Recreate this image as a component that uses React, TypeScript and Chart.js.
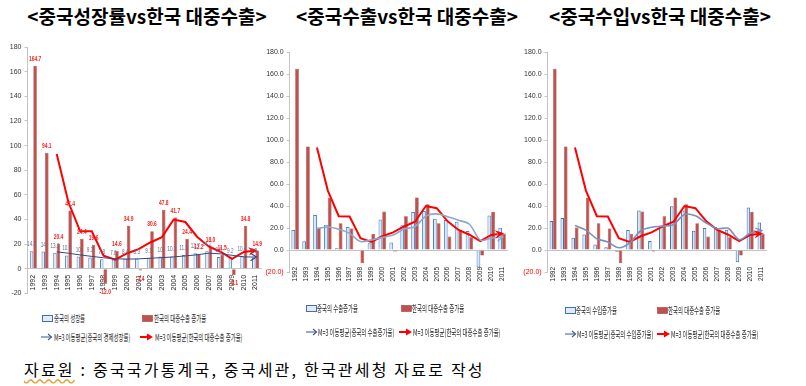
import React, { useEffect, useRef } from "react";
import { Chart, registerables } from "chart.js";

Chart.register(...registerables);

// ---------------- data ----------------
const years = ["1992","1993","1994","1995","1996","1997","1998","1999","2000","2001","2002","2003","2004","2005","2006","2007","2008","2009","2010","2011"];
const chinaGdpGrowth = [14.2,14.0,13.1,10.9,10.0,9.3,7.8,7.6,8.4,8.3,9.1,10.0,10.1,11.3,12.7,14.2,9.6,9.2,10.4,9.2];
const koreaExportToChinaGrowth = [164.7,94.1,20.4,47.4,24.4,19.6,-12.0,14.6,34.9,-1.4,30.6,47.8,41.7,24.4,12.2,18.0,11.5,-5.1,34.8,14.9];
const chinaExportGrowth = [18.1,8.0,31.9,22.9,1.5,21.0,0.5,6.1,27.8,6.8,22.4,34.6,35.4,28.4,27.2,25.7,17.2,-16.0,31.3,20.3];
const chinaImportGrowth = [26.3,29.0,11.2,14.2,5.1,2.5,-1.5,18.2,35.8,8.2,21.2,39.8,36.0,17.6,19.9,20.8,18.5,-11.2,38.7,24.9];
const maChinaGdp = [null,null,13.8,12.7,11.3,10.1,9.0,8.2,7.9,8.1,8.6,9.1,9.7,10.5,11.4,12.7,12.2,11.0,9.7,9.6];
const maKoreaExport = [null,null,93.1,54.0,30.7,30.5,10.7,7.4,12.5,16.0,21.4,25.7,40.0,38.0,26.1,18.2,13.9,8.1,13.7,14.9];
const maChinaExport = [null,null,19.3,20.9,18.8,15.1,7.7,9.2,11.5,13.6,19.0,21.3,30.8,32.8,30.3,27.1,23.4,9.0,10.8,11.9];
const maChinaImport = [null,null,22.2,18.1,10.2,7.3,2.0,6.4,17.5,20.7,21.7,23.1,32.3,31.1,24.5,19.4,19.7,9.4,15.3,17.5];
const yMin = -20;
const yMax = 180;
const yStep = 20;

// ---------------- plugins ----------------
const arrowPlugin = {
  id: "arrowEnd",
  afterDatasetsDraw(chart: any) {
    const ctx = chart.ctx;
    chart.data.datasets.forEach((ds: any, i: number) => {
      if (!ds.arrow) return;
      const pts = chart.getDatasetMeta(i).data;
      const a = pts[pts.length - 2];
      const b = pts[pts.length - 1];
      const ang = Math.atan2(b.y - a.y, b.x - a.x);
      const s = ds.arrow.size;
      ctx.save();
      ctx.translate(b.x, b.y);
      ctx.rotate(ang);
      ctx.strokeStyle = ds.borderColor;
      ctx.fillStyle = ds.borderColor;
      ctx.lineWidth = ds.arrow.lw;
      ctx.beginPath();
      if (ds.arrow.filled) {
        ctx.moveTo(2, 0);
        ctx.lineTo(-s, -s * 0.6);
        ctx.lineTo(-s * 0.55, 0);
        ctx.lineTo(-s, s * 0.6);
        ctx.closePath();
        ctx.fill();
      } else {
        ctx.moveTo(-s, -s * 0.75);
        ctx.lineTo(1, 0);
        ctx.lineTo(-s, s * 0.75);
        ctx.stroke();
      }
      ctx.restore();
    });
  },
};

const valueLabelPlugin = {
  id: "valueLabels",
  afterDatasetsDraw(chart: any) {
    const ctx = chart.ctx;
    chart.data.datasets.forEach((ds: any, i: number) => {
      if (!ds.valueLabels) return;
      const meta = chart.getDatasetMeta(i);
      meta.data.forEach((el: any, j: number) => {
        const v = ds.data[j];
        const txt = ds.valueLabels.format(v);
        const y = v >= 0 ? el.y - ds.valueLabels.offset : el.y + ds.valueLabels.offset + 1;
        ctx.save();
        ctx.translate(el.x, y);
        ctx.scale(0.62, 1);
        ctx.font = ds.valueLabels.font;
        ctx.fillStyle = ds.valueLabels.color;
        ctx.textAlign = "center";
        ctx.textBaseline = "middle";
        ctx.fillText(txt, 0, 0);
        ctx.restore();
      });
    });
  },
};

Chart.defaults.font.family = '"Liberation Sans", Arial, sans-serif';

type Spec = {
  china: number[];
  chinaMa: (number | null)[];
  chinaFill: string;
  chinaBorder: string;
  maColor: string;
  maWidth: number;
  maTension: number;
  catPct: number;
  yAxisWidth: number;
  padding: { top: number; bottom: number; left: number; right: number };
  decimalTicks: boolean;
  xPad: number;
  xFont: number;
  withLabels: boolean;
};

function buildConfig(s: Spec): any {
  const redLabels = s.withLabels
    ? { format: (v: number) => v.toFixed(1), offset: 7, font: "bold 8px 'Liberation Sans'", color: "#ff1a1a" }
    : undefined;
  const blueLabels = s.withLabels
    ? { format: (v: number) => String(v), offset: 7, font: "7.5px 'Liberation Sans'", color: "#5c6f94" }
    : undefined;
  return {
    type: "bar",
    data: {
      labels: years,
      datasets: [
        {
          type: "line",
          data: s.chinaMa,
          borderColor: s.maColor,
          borderWidth: s.maWidth,
          tension: s.maTension,
          pointRadius: 0,
          fill: false,
          order: 0,
          arrow: { size: 5, lw: 1.2, filled: false },
        },
        {
          type: "line",
          data: maKoreaExport,
          borderColor: "#ff0000",
          borderWidth: 2,
          tension: 0,
          pointRadius: 0,
          fill: false,
          order: 0,
          arrow: { size: 7, lw: 1, filled: true },
        },
        {
          type: "bar",
          data: s.china,
          backgroundColor: s.chinaFill,
          borderColor: s.chinaBorder,
          borderWidth: 1,
          barPercentage: 1,
          categoryPercentage: s.catPct,
          order: 1,
          valueLabels: blueLabels,
        },
        {
          type: "bar",
          data: koreaExportToChinaGrowth,
          backgroundColor: "#c0504d",
          borderColor: "#a23f3c",
          borderWidth: 0.6,
          barPercentage: 1,
          categoryPercentage: s.catPct,
          order: 1,
          valueLabels: redLabels,
        },
      ],
    },
    options: {
      responsive: false,
      animation: false,
      devicePixelRatio: 1,
      layout: { padding: s.padding },
      plugins: { legend: { display: false }, tooltip: { enabled: false }, title: { display: false } },
      scales: {
        x: {
          type: "category",
          position: { y: 0 },
          offset: true,
          grid: { display: false, drawTicks: false },
          border: { display: true, color: "#c4c4c4", width: 1 },
          ticks: {
            minRotation: 90,
            maxRotation: 90,
            autoSkip: false,
            padding: s.xPad,
            font: { size: s.xFont },
            color: "#222",
          },
        },
        y: {
          min: yMin,
          max: yMax,
          ticks: {
            stepSize: yStep,
            padding: 3,
            font: { size: 7 },
            color: (c: any) => (s.decimalTicks && c.tick.value < 0 ? "#ff0000" : "#333"),
            callback: (v: any) => {
              const n = Number(v);
              if (!s.decimalTicks) return String(n);
              return n < 0 ? "(" + Math.abs(n).toFixed(1) + ")" : n.toFixed(1);
            },
          },
          grid: { drawOnChartArea: false, drawTicks: true, tickLength: 3, color: "#c4c4c4" },
          border: { color: "#c4c4c4" },
          afterFit: (sc: any) => {
            sc.width = s.yAxisWidth;
          },
        },
      },
    },
    plugins: [arrowPlugin, valueLabelPlugin],
  };
}

function ChartCanvas(props: { left: number; top: number; width: number; height: number; spec: Spec }) {
  const ref = useRef<HTMLCanvasElement | null>(null);
  useEffect(() => {
    const chart = new Chart(ref.current as HTMLCanvasElement, buildConfig(props.spec));
    return () => chart.destroy();
  }, []);
  return (
    <canvas
      ref={ref}
      width={props.width}
      height={props.height}
      style={{ position: "absolute", left: props.left, top: props.top, width: props.width, height: props.height }}
    />
  );
}

const spec1: Spec = {
  china: chinaGdpGrowth,
  chinaMa: maChinaGdp,
  chinaFill: "#e6edf7",
  chinaBorder: "#4f81bd",
  maColor: "#2f4b80",
  maWidth: 1,
  maTension: 0,
  catPct: 0.6,
  yAxisWidth: 27.5,
  padding: { top: 47, bottom: 11.5, left: 0, right: 4.5 },
  decimalTicks: false,
  xPad: 6,
  xFont: 7,
  withLabels: true,
};
const spec2: Spec = {
  china: chinaExportGrowth,
  chinaMa: maChinaExport,
  chinaFill: "#dbe7f5",
  chinaBorder: "#3d85d0",
  maColor: "#8ea7cb",
  maWidth: 1.6,
  maTension: 0.3,
  catPct: 0.69,
  yAxisWidth: 27.7,
  padding: { top: 52, bottom: 18, left: 0, right: 4.1 },
  decimalTicks: true,
  xPad: 17,
  xFont: 6.5,
  withLabels: false,
};
const spec3: Spec = {
  china: chinaImportGrowth,
  chinaMa: maChinaImport,
  chinaFill: "#dbe7f5",
  chinaBorder: "#3d6fb0",
  maColor: "#7890bd",
  maWidth: 1.6,
  maTension: 0.3,
  catPct: 0.64,
  yAxisWidth: 27.6,
  padding: { top: 52, bottom: 18, left: 0, right: 4.4 },
  decimalTicks: true,
  xPad: 17,
  xFont: 6.5,
  withLabels: false,
};

// ---------------- legend (HTML) ----------------
function Symbol({ kind }: { kind: string }) {
  if (kind === "boxBlue")
    return (
      <svg width="11" height="8">
        <rect x="0.5" y="1.5" width="10" height="6" fill="#e3ebf6" stroke="#3f6fb5" strokeWidth="1" />
      </svg>
    );
  if (kind === "boxRed")
    return (
      <svg width="11" height="8">
        <rect x="0.5" y="1.5" width="10" height="6" fill="#c0504d" stroke="#a23f3c" strokeWidth="0.6" />
      </svg>
    );
  if (kind === "arrowBlue")
    return (
      <svg width="12" height="8">
        <line x1="0" y1="4" x2="10.5" y2="4" stroke="#3b5690" strokeWidth="1" />
        <polyline points="7,1 10.5,4 7,7" fill="none" stroke="#3b5690" strokeWidth="1.1" />
      </svg>
    );
  return (
    <svg width="14" height="8">
      <line x1="0" y1="4" x2="10" y2="4" stroke="#ff0000" strokeWidth="2" />
      <polygon points="7,0.5 13,4 7,7.5" fill="#ff0000" />
    </svg>
  );
}

function LegendItem(props: { sx: number; tx: number; y: number; kind: string; text: string }) {
  return (
    <>
      <div style={{ position: "absolute", left: props.sx, top: props.y - 4, height: 8, lineHeight: 0 }}>
        <Symbol kind={props.kind} />
      </div>
      <div
        style={{
          position: "absolute",
          left: props.tx,
          top: props.y - 7,
          height: 14,
          lineHeight: "14px",
          fontSize: 9.5,
          fontFamily: '"Noto Sans CJK KR", sans-serif',
          color: "#1e1e1e",
          whiteSpace: "nowrap",
          transform: "scaleX(0.57)",
          transformOrigin: "left center",
        }}
      >
        {props.text}
      </div>
    </>
  );
}

const titleStyle: React.CSSProperties = {
  position: "absolute",
  top: 4,
  width: 300,
  textAlign: "center",
  fontSize: 19,
  fontWeight: 700,
  lineHeight: "24px",
  fontFamily: '"Noto Sans CJK KR", sans-serif',
  color: "#000",
  whiteSpace: "nowrap",
};

export default function App() {
  return (
    <div
      style={{
        position: "absolute",
        left: 0,
        top: 0,
        width: 806,
        height: 386,
        background: "#fff",
        overflow: "hidden",
      }}
    >
      <div style={{ ...titleStyle, left: 147 - 150 }}>&lt;중국성장률vs한국 대중수출&gt;</div>
      <div style={{ ...titleStyle, left: 407 - 150 }}>&lt;중국수출vs한국 대중수출&gt;</div>
      <div style={{ ...titleStyle, left: 660 - 150 }}>&lt;중국수입vs한국 대중수출&gt;</div>

      <ChartCanvas left={0} top={0} width={270} height={305} spec={spec1} />
      <ChartCanvas left={262} top={0} width={265} height={290} spec={spec2} />
      <ChartCanvas left={520} top={0} width={266} height={290} spec={spec3} />

      <LegendItem sx={42} tx={54} y={318} kind="boxBlue" text="중국의 성장률" />
      <LegendItem sx={142} tx={154} y={318} kind="boxRed" text="한국의 대중수출 증가율" />
      <LegendItem sx={41} tx={54} y={337} kind="arrowBlue" text="M=3 이동평균(중국의 경제성장률)" />
      <LegendItem sx={140} tx={155} y={337} kind="arrowRed" text="M=3 이동평균(한국의 대중수출 증가율)" />

      <LegendItem sx={306} tx={317} y={308} kind="boxBlue" text="중국의 수출증가율" />
      <LegendItem sx={401} tx={412} y={308} kind="boxRed" text="한국의 대중수출 증가율" />
      <LegendItem sx={306} tx={318} y={332} kind="arrowBlue" text="M=3 이동평균(중국의 수출증가율)" />
      <LegendItem sx={399} tx={413} y={332} kind="arrowRed" text="M=3 이동평균(한국의 대중수출 증가율)" />

      <LegendItem sx={565} tx={576} y={310} kind="boxBlue" text="중국의 수입증가율" />
      <LegendItem sx={657} tx={668} y={310} kind="boxRed" text="한국의 대중수출 증가율" />
      <LegendItem sx={565} tx={577} y={334} kind="arrowBlue" text="M=3 이동평균(중국의 수입증가율)" />
      <LegendItem sx={657} tx={671} y={334} kind="arrowRed" text="M=3 이동평균(한국의 대중수출 증가율)" />

      <div
        style={{
          position: "absolute",
          left: 24,
          top: 358,
          fontSize: 16,
          lineHeight: "22px",
          fontFamily: '"Noto Sans CJK KR", sans-serif',
          color: "#000",
          whiteSpace: "nowrap",
          letterSpacing: 2.2,
        }}
      >
        <span style={{ textDecoration: "underline wavy #e8a33d", textUnderlineOffset: 2 }}>자료원</span> : 중국국가통계국, 중국세관, 한국관세청 자료로 작성
      </div>
    </div>
  );
}
